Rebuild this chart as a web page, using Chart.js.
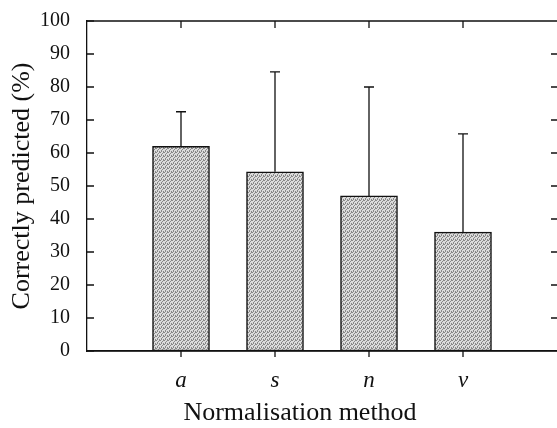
<!DOCTYPE html>
<html lang="en">
<head>
    <meta charset="UTF-8">
    <title>Correctly predicted</title>
    <style>
        html, body { margin: 0; padding: 0; background: #fff; }
        #wrap { width: 557px; height: 428px; }
    </style>
</head>
<body>
    <div id="wrap"><canvas id="chart"></canvas></div>
    <script src="https://cdn.jsdelivr.net/npm/chart.js"></script>
    <script>
        // data
        const methods = ["a", "s", "n", "v"];
        const meanValues = [62, 54.3, 47, 36];
        const upperValues = [72.5, 84.6, 80, 65.8];
        const yTicks = [0, 10, 20, 30, 40, 50, 60, 70, 80, 90, 100];

        // stippled grey fill like the printed bars
        function makeStipple() {
            const c = document.createElement("canvas");
            c.width = 4; c.height = 4;
            const g = c.getContext("2d");
            g.fillStyle = "#dcdcdc";
            g.fillRect(0, 0, 4, 4);
            g.fillStyle = "#888";
            [[0,0],[2,1],[1,2],[3,3],[3,0],[1,3]].forEach(p => g.fillRect(p[0], p[1], 1, 1));
            return g.createPattern(c, "repeat");
        }

        // error bars, tick marks and x title drawn on top of the chart
        const extras = {
            id: "extras",
            afterDatasetsDraw(chart) {
                const ctx = chart.ctx;
                const xs = chart.scales.x, ys = chart.scales.y;
                const area = chart.chartArea;
                ctx.save();
                ctx.strokeStyle = "#111";
                ctx.lineWidth = 1.3;
                // error bars
                methods.forEach((m, i) => {
                    const px = xs.getPixelForValue(i + 1);
                    const top = ys.getPixelForValue(upperValues[i]);
                    const base = ys.getPixelForValue(meanValues[i]);
                    ctx.beginPath();
                    ctx.moveTo(px, base); ctx.lineTo(px, top);
                    ctx.moveTo(px - 5, top); ctx.lineTo(px + 5, top);
                    ctx.stroke();
                });
                // frame top line
                ctx.beginPath();
                ctx.moveTo(area.left, area.top); ctx.lineTo(557, area.top);
                ctx.moveTo(area.left, area.bottom); ctx.lineTo(557, area.bottom);
                ctx.stroke();
                // y ticks inward on both sides
                yTicks.forEach(v => {
                    const py = ys.getPixelForValue(v);
                    ctx.beginPath();
                    ctx.moveTo(area.left, py); ctx.lineTo(area.left + 7, py);
                    if (v > 0 && v < 100) { ctx.moveTo(557, py); ctx.lineTo(551, py); }
                    ctx.stroke();
                });
                // x ticks: inward at top, outward at bottom
                methods.forEach((m, i) => {
                    const px = xs.getPixelForValue(i + 1);
                    ctx.beginPath();
                    ctx.moveTo(px, area.top); ctx.lineTo(px, area.top + 7);
                    ctx.moveTo(px, area.bottom); ctx.lineTo(px, area.bottom + 6);
                    ctx.stroke();
                });
                // x axis title
                ctx.fillStyle = "#111";
                ctx.font = "26px 'Liberation Serif'";
                ctx.textAlign = "center";
                ctx.textBaseline = "middle";
                ctx.fillText("Normalisation method", 300, 413);
                ctx.restore();
            }
        };

        document.addEventListener("DOMContentLoaded", function() {
            const ctx = document.getElementById("chart").getContext("2d");
            new Chart(ctx, {
                type: "bar",
                data: {
                    datasets: [{
                        data: methods.map((m, i) => ({ x: i + 1, y: meanValues[i] })),
                        backgroundColor: makeStipple(),
                        borderColor: "#111",
                        borderWidth: 1.5,
                        borderSkipped: false,
                        barThickness: 57
                    }]
                },
                options: {
                    responsive: true,
                    maintainAspectRatio: false,
                    animation: false,
                    layout: { padding: { top: 20, right: 0, left: 0, bottom: 0 } },
                    plugins: { legend: { display: false }, tooltip: { enabled: false } },
                    scales: {
                        x: {
                            type: "linear",
                            offset: false,
                            min: 0,
                            max: 5,
                            grid: { display: false },
                            border: { display: true, color: "#111", width: 1.3 },
                            afterFit(scale) {
                                scale.height = 77;
                                scale.paddingLeft = 0;
                                scale.paddingRight = 0;
                            },
                            ticks: {
                                stepSize: 1,
                                padding: 8,
                                color: "#111",
                                font: { family: "'Liberation Serif'", size: 23, style: "italic" },
                                callback: v => (v >= 1 && v <= methods.length) ? methods[v - 1] : ""
                            }
                        },
                        y: {
                            min: 0,
                            max: 100,
                            grid: { display: false },
                            border: { display: true, color: "#111", width: 1.3 },
                            afterFit(scale) { scale.width = 87; },
                            ticks: {
                                stepSize: 10,
                                padding: 9,
                                color: "#111",
                                font: { family: "'Liberation Serif'", size: 20 }
                            },
                            title: {
                                display: true,
                                text: "Correctly predicted (%)",
                                color: "#111",
                                padding: { top: 7, bottom: 0 },
                                font: { family: "'Liberation Serif'", size: 26 }
                            }
                        }
                    }
                },
                plugins: [extras]
            });
        });
    </script>
</body>
</html>
